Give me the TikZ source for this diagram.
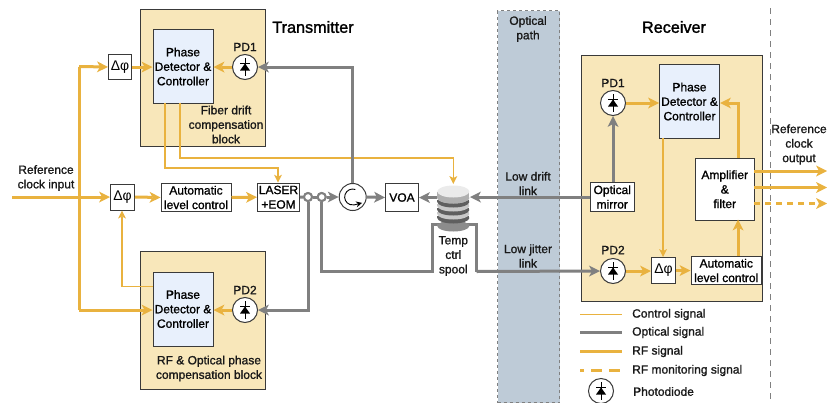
\documentclass[tikz,border=0pt]{standalone}
\usepackage{fontspec}
\setmainfont{Liberation Sans}
\newfontfamily\lab[FakeBold=1.2]{Liberation Sans}
\newfontfamily\ttl[FakeBold=1.6]{Liberation Sans}
\usetikzlibrary{arrows.meta,calc}
\definecolor{rfc}{HTML}{E9B23F}
\definecolor{optc}{HTML}{808080}
\definecolor{blockc}{HTML}{F8E7BA}
\definecolor{pdc}{HTML}{E8F0FC}
\definecolor{pathc}{HTML}{BECBD7}
\definecolor{framec}{HTML}{3A3A3A}
\definecolor{spoolmid}{HTML}{B0B0B0}
\tikzset{
 x=1pt,y=-1pt,
 txt/.style={font=\lab\fontsize{12}{14.5}\selectfont,align=center,inner sep=0pt,text=black!90},
 title/.style={font=\ttl\fontsize{16.2}{18}\selectfont,inner sep=0pt,text=black},
 block/.style={draw=framec,fill=blockc,line width=.9pt,inner sep=0pt,anchor=north west},
 pdbox/.style={draw=framec,fill=pdc,line width=1pt,inner sep=0pt,anchor=north west,minimum width=60pt,minimum height=74pt,font=\lab\fontsize{12}{14.5}\selectfont,align=center},
 wbox/.style={draw=framec,fill=white,line width=1pt,inner sep=0pt,anchor=north west,font=\lab\fontsize{12}{14.5}\selectfont,align=center},
 dphi/.style={wbox,minimum width=24pt,minimum height=26pt,font=\fontsize{14}{14}\selectfont},
 rf/.style={draw=rfc,line width=3pt,-{Stealth[length=11pt,width=11pt,inset=3pt,line width=0pt,fill=rfc]}},
 rfline/.style={draw=rfc,line width=3pt},
 ctl/.style={draw=rfc,line width=1.2pt,-{Stealth[length=8pt,width=8pt,inset=2pt,line width=0pt,fill=rfc]}},
 opt/.style={draw=optc,line width=3pt,-{Stealth[length=11pt,width=11pt,inset=3pt,line width=0pt,fill=optc]}},
 optline/.style={draw=optc,line width=3pt},
 diodec/.style={circle,draw=framec,fill=white,line width=1pt,minimum size=25pt,inner sep=0pt},
 tap/.style={circle,draw=optc,fill=white,line width=2pt,minimum size=8pt,inner sep=0pt},
}
\newcommand{\diodesym}[1]{%
 \draw[black,line width=.8pt] ($(#1)+(0,-9)$) -- ($(#1)+(0,9)$);
 \fill[black] ($(#1)+(-5,3.5)$) -- ($(#1)+(5,3.5)$) -- ($(#1)+(0,-3.5)$) -- cycle;
 \draw[black,line width=1pt] ($(#1)+(-5,-3.5)$) -- ($(#1)+(5,-3.5)$);
}
\begin{document}
\begin{tikzpicture}
\useasboundingbox (0,0) rectangle (827,402);
% backgrounds
\node[draw=optc,dashed,fill=pathc,line width=1.2pt,minimum width=62pt,minimum height=392pt,inner sep=0pt,anchor=north west] (optpath) at (497,10) {};
\coordinate (sepT) at (770.5,8);
\coordinate (sepB) at (770.5,402);
\draw[optc,line width=1pt,dash pattern=on 6pt off 5pt] (sepT) -- (sepB);
\node[block,minimum width=125pt,minimum height=137.5pt] (txa) at (140,8.5) {};
\node[block,minimum width=125pt,minimum height=138pt] (txb) at (140,251) {};
\node[block,minimum width=181.5pt,minimum height=246pt] (rx) at (580.5,55) {};
% coordinates
\coordinate (inp) at (12,197);
\coordinate (railT) at (79,66.5);
\coordinate (railB) at (79,310);
\coordinate (rail) at (79,197);
% nodes
\node[pdbox] (pda) at (152.5,29) {Phase\\Detector \&\\Controller};
\node[pdbox] (pdb) at (152.5,271.5) {Phase\\Detector \&\\Controller};
\node[pdbox] (pdr) at (659,64) {Phase\\Detector \&\\Controller};
\node[dphi,minimum width=23pt,minimum height=25pt] (dpa) at (108,54) {Δφ};
\node[dphi] (dpb) at (110,183.5) {Δφ};
\node[dphi] (dpr) at (651,257) {Δφ};
\node[wbox,minimum width=70pt,minimum height=28pt] (alc) at (160.5,183) {Automatic\\level control};
\node[wbox,minimum width=42pt,minimum height=28pt] (laser) at (257,182.7) {LASER\\+EOM};
\node[wbox,minimum width=33pt,minimum height=28pt] (voa) at (385,183) {VOA};
\node[wbox,minimum width=43.5pt,minimum height=29pt] (mirror) at (590,182) {Optical\\mirror};
\node[wbox,minimum width=59.5pt,minimum height=62.5pt] (amp) at (694.5,157.5) {Amplifier\\\&\\filter};
\node[wbox,minimum width=70.5pt,minimum height=28pt] (alcr) at (690.5,256) {Automatic\\level control};
\node[diodec] (d1) at (245,67) {};
\node[diodec] (d2) at (245,310) {};
\node[diodec] (d3) at (613,103) {};
\node[diodec] (d4) at (613,271) {};
\node[diodec] (d5) at (601,391) {};
\node[circle,draw=framec,fill=white,line width=1pt,minimum size=27pt,inner sep=0pt] (circ) at (352.7,197) {};
\node[inner sep=0pt,minimum width=33pt,minimum height=46pt] (spool) at (453.3,209) {};
% rf
\draw[rfline] (inp) -- (rail);
\draw[rf] (rail) -- (dpb.west);
\draw[rfline] (railT) -- (railB);
\draw[rf] (railT) -- (dpa.west);
\draw[rf] (dpa.east) -- (pda.west |- dpa.east);
\draw[rf] (railB) -- (pdb.west |- railB);
\draw[rf] (d1.west) -- (pda.east |- d1.west);
\draw[rf] (d2.west) -- (pdb.east |- d2.west);
\draw[rf] (dpb.east) -- (alc.west);
\draw[rf] (alc.east) -- (laser.west);
\draw[rf] (d3.east) -- (pdr.west |- d3.east);
\draw[rf] (d4.east) -- (dpr.west |- d4.east);
\draw[rf] (dpr.east) -- (alcr.west |- dpr.east);
\coordinate (ampTop) at (738,157.5);
\coordinate (ampBot) at (738,219.5);
\coordinate (alcTop) at (738,256);
\coordinate (ampCorner) at (738,103);
\draw[rf] (alcTop) -- (ampBot);
\draw[rf] (ampTop) -- (ampCorner) -- (pdr.east |- ampCorner);
% outputs
\coordinate (oa) at (754,171); \coordinate (oae) at (827,171);
\coordinate (ob) at (754,187.5); \coordinate (obe) at (827,187.5);
\coordinate (oc) at (754,203.5); \coordinate (oce) at (827,203.5);
\draw[rf] (oa) -- (oae);
\draw[rf] (ob) -- (obe);
\draw[rf,dash pattern=on 6pt off 5pt] (oc) -- (oce);
% control
\coordinate (ca1) at (165,102.5); \coordinate (ca2) at (165,168); \coordinate (ca3) at (278,168);
\draw[ctl] (ca1) -- (ca2) -- (ca3) -- (ca3 |- laser.north);
\coordinate (cb1) at (180,102.5); \coordinate (cb2) at (180,158); \coordinate (cb3) at (453.3,158); \coordinate (cb4) at (453.3,184);
\draw[ctl] (cb1) -- (cb2) -- (cb3) -- (cb4);
\coordinate (cc1) at (152.5,286.7); \coordinate (cc2) at (122,286.7);
\draw[ctl] (cc1) -- (cc2) -- (cc2 |- dpb.south);
\coordinate (cd1) at (663,138);
\draw[ctl] (cd1) -- (cd1 |- dpr.north);
% optical
\node[tap] (t1) at (308,197) {};
\node[tap] (t2) at (321.7,197) {};
\coordinate (sp1) at (432,271.5); \coordinate (sp2) at (432,224); \coordinate (sp3) at (476.5,224); \coordinate (sp4) at (476.5,271.5);
\draw[optline] (t2.south) |- (sp1) -- (sp2) -- (sp3) -- (sp4);
\draw[opt] (sp4) -- (d4.west);
\draw[opt] (t1.south) |- (d2.east);
\draw[optline] (laser.east) -- (t1.west);
\draw[optline] (t1.east) -- (t2.west);
\draw[opt] (t2.east) -- (circ.west);
\draw[opt] (circ.east) -- (voa.west);
\draw[opt] (circ.north) |- (d1.east);
\draw[opt] (spool.west |- voa.east) -- (voa.east);
\draw[opt] (mirror.west) -- (spool.east |- mirror.west);
\draw[opt] (mirror.north -| d3) -- (d3.south);
% redraw taps on top
\node[tap] at (t1) {};
\node[tap] at (t2) {};
% spool
\foreach \yy/\cc in {226/8C8C8C,218/5F5F5F,214/C8C8C8,210/5F5F5F,206/C8C8C8,202/5F5F5F,198/C8C8C8}{
 \definecolor{tmpc}{HTML}{\cc}
 \fill[tmpc] (437.3,\yy-2) rectangle (469.3,\yy);
 \fill[tmpc] (453.3,\yy) ellipse [x radius=16,y radius=5.5];
}
\fill[spoolmid] (437.3,192) rectangle (469.3,198);
\fill[spoolmid] (453.3,198) ellipse [x radius=16,y radius=5.5];
\fill[black!8] (453.3,191.5) ellipse [x radius=16,y radius=6];
% diode symbols
\diodesym{d1}\diodesym{d2}\diodesym{d3}\diodesym{d4}\diodesym{d5}
% circulator symbol
\draw[black,line width=.9pt,-{Stealth[length=6pt,width=6pt,line width=0pt,fill=black]}] ($(circ)+(2.7,-7.5)$) arc[start angle=-70,end angle=-280,radius=8] -- ++(8,-2);
% labels
\node[title] (ttx) at (313,27) {Transmitter};
\node[title] (trx) at (674,27) {Receiver};
\node[txt] (l1) at (46,178) {Reference\\clock input};
\node[txt] (l2) at (245,47) {PD1};
\node[txt] (l3) at (245,290) {PD2};
\node[txt] (l4) at (226,124.5) {Fiber drift\\compensation\\block};
\node[txt] (l5) at (209,368.5) {RF \& Optical phase\\compensation block};
\node[txt] (l6) at (453.3,256) {Temp\\ctrl\\spool};
\node[txt] (l7) at (528,29) {Optical\\path};
\node[txt] (l8) at (528,183.5) {Low drift\\link};
\node[txt] (l9) at (528,256) {Low jitter\\link};
\node[txt] (l10) at (613,83) {PD1};
\node[txt] (l11) at (613,250) {PD2};
\node[txt] (l12) at (799,144.5) {Reference\\clock\\output};
% legend
\coordinate (la) at (580,314.5); \coordinate (lae) at (622,314.5);
\coordinate (lb) at (580,332.5); \coordinate (lbe) at (622,332.5);
\coordinate (lc) at (580,351); \coordinate (lce) at (622,351);
\coordinate (ld) at (580,370); \coordinate (lde) at (622,370);
\draw[rfc,line width=1.2pt] (la) -- (lae);
\draw[optline] (lb) -- (lbe);
\draw[rfline] (lc) -- (lce);
\draw[rfline,dash pattern=on 4pt off 7pt on 11pt off 7pt on 11pt off 7pt] (ld) -- (lde);
\node[txt,anchor=west] (m1) at (632,314.5) {Control signal};
\node[txt,anchor=west] (m2) at (632,332.5) {Optical signal};
\node[txt,anchor=west] (m3) at (632,351.5) {RF signal};
\node[txt,anchor=west] (m4) at (632,370.5) {RF monitoring signal};
\node[txt,anchor=west] (m5) at (633,391.5) {Photodiode};
\end{tikzpicture}
\end{document}
